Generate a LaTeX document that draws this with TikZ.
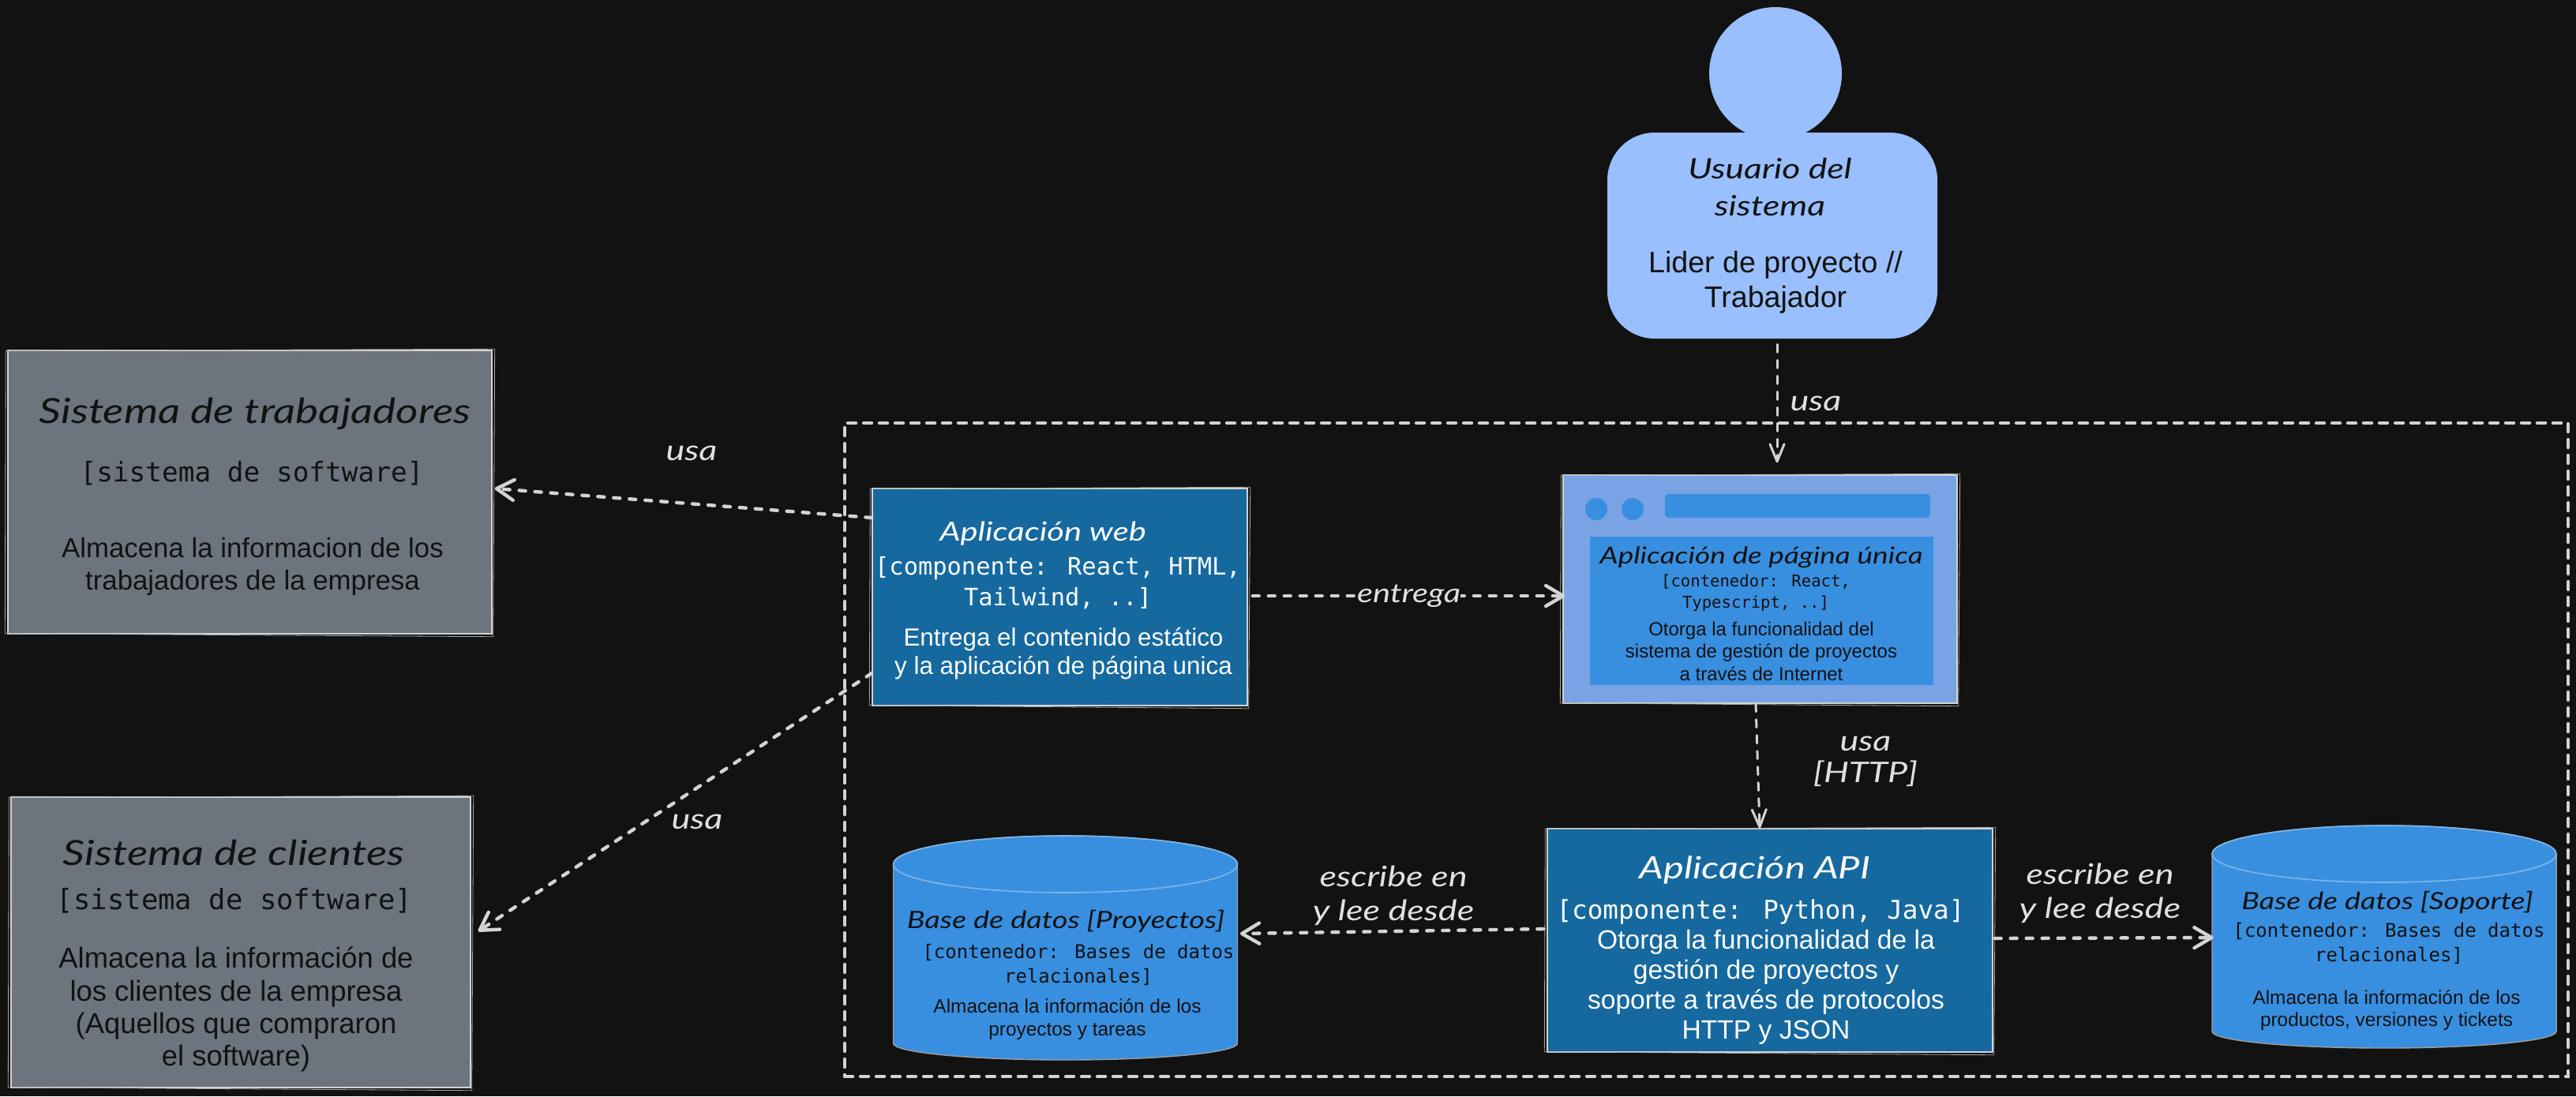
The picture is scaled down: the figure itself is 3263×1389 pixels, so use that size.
\documentclass[tikz,border=0pt]{standalone}
\usepackage{fontspec}
\setmainfont{Liberation Sans}
\newfontfamily\handf[FakeStretch=1.25]{Lato}
\newfontfamily\monof{DejaVu Sans Mono}
\usetikzlibrary{arrows.meta}
\definecolor{bgc}{HTML}{121212}
\definecolor{grayc}{HTML}{6C757D}
\definecolor{darkb}{HTML}{15699F}
\definecolor{midb}{HTML}{388EDF}
\definecolor{lightb}{HTML}{99BFFF}
\definecolor{spab}{HTML}{7AA3E5}
\definecolor{strk}{HTML}{D3D3D3}
\definecolor{ink}{HTML}{121212}
\definecolor{lab}{HTML}{E0E0E0}
\newcommand{\fs}[2]{\fontsize{#1}{#2}\selectfont}
\newcommand{\hand}[2]{\handf\itshape\fontsize{#1}{#2}\selectfont}
\newcommand{\mono}[2]{\monof\fontsize{#1}{#2}\selectfont}
\newcommand{\rough}[1]{\draw[roughline] ([shift={(-2,1)}]#1.north west) -- ([shift={(3,-1)}]#1.north east) -- ([shift={(1,3)}]#1.south east) -- ([shift={(-3,-1)}]#1.south west) -- cycle;}
\tikzset{
  x=0.5pt,y=-0.5pt,
  boxs/.style={rectangle,inner sep=0pt,draw=strk,line width=0.7pt},
  txt/.style={inner sep=0pt,align=center},
  roughline/.style={draw=strk!80!black,line width=0.4pt},
  arr/.style={draw=strk,line width=2.2pt,line cap=round,dash pattern=on 4pt off 6pt,-{Straight Barb[length=11pt,width=13pt,line width=2.2pt,round]}},
  arrthin/.style={draw=strk,line width=1.5pt,line cap=round,dash pattern=on 5pt off 5pt,-{Straight Barb[length=11pt,width=9pt,line width=1.5pt,round]}},
  limit/.style={rectangle,inner sep=0pt,draw=strk,line width=2.2pt,line cap=round,dash pattern=on 5pt off 5pt},
  labeltxt/.style={inner sep=0pt,align=center,text=lab},
  dbfill/.style={fill=midb,draw=strk!75!black,line width=0.7pt},
  dbtop/.style={draw=midb!65!white,line width=0.8pt},
}
\newcommand{\dbshape}[5]{%name cx ytopellipse yside halfheight
  \path[dbfill] (#2-218,#3) arc[start angle=180,end angle=0,x radius=109pt,y radius=18pt]
     -- (#2+218,#4) arc[start angle=0,end angle=-180,x radius=109pt,y radius=10.5pt] -- cycle;
  \draw[dbtop] (#2,#3) ellipse[x radius=109pt,y radius=18pt];
  \node[rectangle,inner sep=0pt,minimum width=218pt,minimum height=#5pt] (#1) at (#2,#3-36+#5) {};
}
\begin{document}
\begin{tikzpicture}
\useasboundingbox[fill=bgc] (0,0) rectangle (3263,1389);

\node[limit,minimum width=1091.5pt,minimum height=414pt] (limite) at (2161.5,950) {};

% external systems
\node[boxs,fill=grayc,minimum width=306.5pt,minimum height=179.5pt] (trab) at (316.5,623.5) {};
\rough{trab}
\node[txt,text=ink,font={\hand{22}{28}}] (trabT) at (323,524) {Sistema de trabajadores};
\node[txt,text=ink,font={\mono{17.2}{21}}] (trabM) at (319,600) {[sistema de software]};
\node[txt,text=ink,font={\fs{17.4}{20.5}}] (trabD) at (320,718) {Almacena la informacion de los\\ trabajadores de la empresa};

\node[boxs,fill=grayc,minimum width=291pt,minimum height=184pt] (cli) at (305,1194) {};
\rough{cli}
\node[txt,text=ink,font={\hand{22}{28}}] (cliT) at (296,1080) {Sistema de clientes};
\node[txt,text=ink,font={\mono{17.8}{21}}] (cliM) at (297,1141) {[sistema de software]};
\node[txt,text=ink,font={\fs{18.2}{20.6}}] (cliD) at (299,1279) {Almacena la información de\\los clientes de la empresa\\(Aquellos que compraron\\el software)};

% user
\node[circle,fill=lightb,inner sep=0pt,minimum size=84pt] (head) at (2249,93) {};
\node[rectangle,rounded corners=30pt,fill=lightb,inner sep=0pt,minimum width=209pt,minimum height=130.5pt] (body) at (2245,298.5) {};
\node[txt,text=ink,font={\hand{17.8}{23.5}}] (userT) at (2242,237) {Usuario del\\sistema};
\node[txt,text=ink,font={\fs{18.8}{22}}] (userD) at (2249,358) {Lider de proyecto //\\Trabajador};

% web
\node[boxs,fill=darkb,minimum width=237.5pt,minimum height=137.5pt] (web) at (1342.5,756.5) {};
\rough{web}
\node[txt,text=white,font={\hand{16.7}{24}}] (webT) at (1321,676) {Aplicación web};
\node[txt,text=white,font={\mono{15.2}{19.5}}] (webM) at (1340,739) {[componente: React, HTML,\\Tailwind, ..]};
\node[txt,text=white,font={\fs{15.7}{18}}] (webD) at (1347,828) {Entrega el contenido estático\\y la aplicación de página unica};

% spa
\node[boxs,fill=spab,minimum width=249.5pt,minimum height=144.5pt] (spa) at (2229.5,746.5) {};
\rough{spa}
\node[circle,fill=midb,inner sep=0pt,minimum size=14pt] (dotA) at (2022,645) {};
\node[circle,fill=midb,inner sep=0pt,minimum size=14pt] (dotB) at (2068,645) {};
\node[rectangle,rounded corners=2pt,fill=midb,inner sep=0pt,minimum width=168pt,minimum height=15pt] (bar) at (2277,641) {};
\node[rectangle,fill=midb,inner sep=0pt,minimum width=217.5pt,minimum height=94pt] (inner) at (2231.5,774) {};
\node[txt,text=ink,font={\hand{14.8}{22}}] (spaT) at (2231,706) {Aplicación de página única};
\node[txt,text=ink,font={\mono{10.3}{13.5}}] (spaM) at (2224,751) {[contenedor: React,\\Typescript, ..]};
\node[txt,text=ink,font={\fs{12}{14.2}}] (spaD) at (2231,825) {Otorga la funcionalidad del\\sistema de gestión de proyectos\\a través de Internet};

% api
\node[boxs,fill=darkb,minimum width=282pt,minimum height=141.5pt] (api) at (2242,1191.5) {};
\rough{api}
\node[txt,text=white,font={\hand{19.5}{26}}] (apiT) at (2223,1102) {Aplicación API};
\node[txt,text=white,font={\mono{16.3}{20}}] (apiM) at (2230,1155) {[componente: Python, Java]};
\node[txt,text=white,font={\fs{16.8}{19}}] (apiD) at (2237,1251) {Otorga la funcionalidad de la\\gestión de proyectos y\\soporte a través de protocolos\\HTTP y JSON};

% databases
\dbshape{dbp}{1349.5}{1095}{1322}{142}
\node[txt,text=ink,font={\hand{15.2}{20}}] (dbpT) at (1350,1167) {Base de datos [Proyectos]};
\node[txt,text=ink,font={\mono{12}{15.5}}] (dbpM) at (1366,1222) {[contenedor: Bases de datos\\relacionales]};
\node[txt,text=ink,font={\fs{12.2}{14.5}}] (dbpD) at (1352,1292) {Almacena la información de los\\proyectos y tareas};

\dbshape{dbs}{3020}{1082}{1307}{141}
\node[txt,text=ink,font={\hand{15.1}{20}}] (dbsT) at (3024,1143) {Base de datos [Soporte]};
\node[txt,text=ink,font={\mono{12}{15.5}}] (dbsM) at (3026,1195) {[contenedor: Bases de datos\\relacionales]};
\node[txt,text=ink,font={\fs{12.2}{14.2}}] (dbsD) at (3023,1280) {Almacena la información de los\\productos, versiones y tickets};

% connectors
\draw[arrthin] ([shift={(6,7)}]body.south) -- ([shift={(21.5,-15)}]spa.north);
\node[labeltxt,font={\hand{18}{20}}] (usaA) at (2300,511) {usa};
\draw[arr] ([shift={(6,-1.5)}]web.east) -- node[midway,fill=bgc,inner sep=0pt,text=lab,font={\hand{16.7}{24}}] (entrega) {entrega} ([shift={(3,8.5)}]spa.west);
\draw[arrthin] ([shift={(-5.5,0)}]spa.south) -- ([shift={(-13,0)}]api.north);
\node[labeltxt,font={\hand{18}{20}}] (usaB) at (2363,965) {usa\\{}[HTTP]};
\draw[arr] ([shift={(-4,-14.5)}]api.west) -- ([shift={(3,-18)}]dbp.east);
\node[labeltxt,font={\hand{18}{21.5}}] (escA) at (1765,1135) {escribe en\\y lee desde};
\draw[arr] ([shift={(2,-2.5)}]api.east) -- ([shift={(2,1)}]dbs.west);
\node[labeltxt,font={\hand{18}{21.5}}] (escB) at (2660,1132) {escribe en\\y lee desde};
\draw[arr] ([shift={(0,-100.5)}]web.west) -- ([shift={(3,-4.5)}]trab.east);
\node[labeltxt,font={\hand{18}{20}}] (usaC) at (876,574) {usa};
\draw[arr] ([shift={(0,96.5)}]web.west) -- ([shift={(9,-14)}]cli.east);
\node[labeltxt,font={\hand{18}{20}}] (usaD) at (883,1041) {usa};
\end{tikzpicture}
\end{document}
